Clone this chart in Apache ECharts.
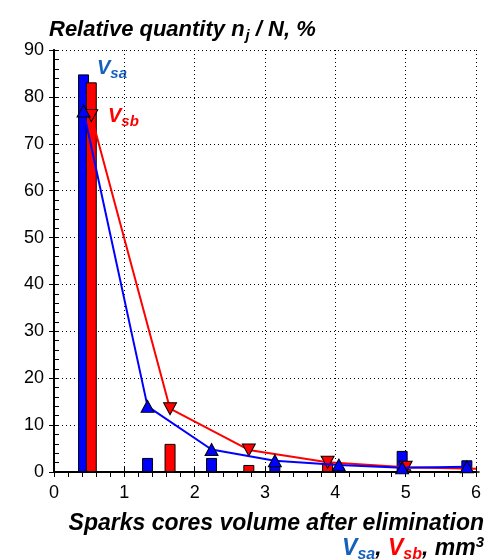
<!DOCTYPE html>
<html>
<head>
<meta charset="utf-8">
<script src="https://cdn.jsdelivr.net/npm/echarts@6/dist/echarts.min.js"></script>
<style>
  html, body { margin: 0; padding: 0; background: #fff; }
  #chart { width: 494px; height: 559px; }
</style>
</head>
<body>
<div id="chart"></div>
<script>
// данные
var xTicks = [0, 1, 2, 3, 4, 5, 6];
var yTicks = [0, 10, 20, 30, 40, 50, 60, 70, 80, 90];

// Vsa – синие столбики и линия
var saX = [0.42, 1.33, 2.24, 3.14, 4.05, 4.95, 5.87];
var saBar = [84.8, 3.0, 3.0, 1.5, 1.0, 4.5, 2.5];
var saLine = [77, 14, 4.8, 2.4, 1.5, 0.9, 1.1];

// Vsb – красные столбики и линия
var sbX = [0.53, 1.65, 2.77, 3.89, 5.0, 6.0];
var sbBar = [83.1, 6.0, 1.5, 2.0, 0.6, 0];
var sbLine = [76, 13.5, 4.7, 2.1, 1.0, 0.7];

var BLUE = '#0000ff', RED = '#ff0000', LBLUE = '#1560bd';
var FONT = 'Liberation Sans, Arial, sans-serif';

function pairs(xs, ys) {
    var res = [];
    for (var i = 0; i < xs.length; i++) res.push([xs[i], ys[i]]);
    return res;
}

var myChart = echarts.init(document.getElementById('chart'));

var axisLine = { show: true, lineStyle: { color: '#000', width: 2 } };
var tick = { show: true, inside: true, length: 5, lineStyle: { color: '#000', width: 1 } };
var minorIn = { show: true, inside: true, splitNumber: 5, length: 5, lineStyle: { color: '#000', width: 1 } };
var minorNeg = { show: true, splitNumber: 5, length: -5, lineStyle: { color: '#000', width: 1 } };
var split = { show: true, lineStyle: { color: '#000', width: 1, type: [1, 3] } };

var sbLineData = pairs(sbX, sbLine);
sbLineData[sbLineData.length - 1] = { value: sbLineData[sbLineData.length - 1], symbol: 'none' };

var bold = { fontWeight: 'bold', fontStyle: 'italic', fontFamily: FONT };
function st(size, color, pad) {
    var o = { fontSize: size, fill: color };
    for (var k in bold) o[k] = bold[k];
    if (pad) o.padding = pad;
    return o;
}

var option = {
    backgroundColor: '#fff',
    animation: false,
    grid: { left: 54, right: 18, top: 50, bottom: 87 },
    xAxis: [
        {
            type: 'value', min: 0, max: 6, interval: 1,
            axisLine: axisLine, axisTick: tick, minorTick: minorNeg, splitLine: split,
            axisLabel: { color: '#000', fontSize: 18, fontFamily: FONT, margin: 12 }
        },
        {
            type: 'value', min: 0, max: 6, interval: 1, position: 'top',
            axisLine: axisLine, axisTick: tick, minorTick: minorIn,
            splitLine: { show: false }, axisLabel: { show: false }
        }
    ],
    yAxis: [
        {
            type: 'value', min: 0, max: 90, interval: 10,
            axisLine: axisLine, axisTick: tick, minorTick: minorIn, splitLine: split,
            axisLabel: { color: '#000', fontSize: 18, fontFamily: FONT, margin: 10 }
        },
        {
            type: 'value', min: 0, max: 90, interval: 10, position: 'right',
            axisLine: axisLine, axisTick: tick, minorTick: minorNeg,
            splitLine: { show: false }, axisLabel: { show: false }
        }
    ],
    series: [
        {
            name: 'Vsa bar', type: 'bar', barWidth: 11, barGap: '-100%', z: 2,
            itemStyle: { color: BLUE, borderColor: '#000', borderWidth: 1 },
            data: pairs(saX, saBar)
        },
        {
            name: 'Vsb bar', type: 'bar', barWidth: 11, barGap: '-100%', z: 2,
            itemStyle: { color: RED, borderColor: '#000', borderWidth: 1 },
            data: pairs(sbX, sbBar)
        },
        {
            name: 'Vsb', type: 'line', z: 3,
            symbol: 'triangle', symbolSize: [13, 12], symbolRotate: 180,
            lineStyle: { color: RED, width: 2 },
            itemStyle: { color: RED, borderColor: '#000', borderWidth: 1 },
            data: sbLineData
        },
        {
            name: 'Vsa', type: 'line', z: 4,
            symbol: 'triangle', symbolSize: [13, 12],
            lineStyle: { color: BLUE, width: 2 },
            itemStyle: { color: BLUE, borderColor: '#000', borderWidth: 1 },
            data: pairs(saX, saLine)
        }
    ],
    graphic: [
        {
            type: 'text', left: 49, top: 19,
            style: {
                text: '{a|Relative quantity n}{s|j}{a| / N, %}',
                rich: { a: st(22, '#000'), s: st(15, '#000', [12, 0, 0, 1]) }
            }
        },
        {
            type: 'text', left: 97, top: 58,
            style: {
                text: '{a|V}{s|sa}',
                rich: { a: st(20, LBLUE), s: st(15, LBLUE, [12, 0, 0, 0]) }
            }
        },
        {
            type: 'text', left: 108, top: 106,
            style: {
                text: '{a|V}{s|sb}',
                rich: { a: st(20, RED), s: st(15, RED, [12, 0, 0, 0]) }
            }
        },
        {
            type: 'text', right: 10, top: 512,
            style: {
                text: 'Sparks cores volume after elimination',
                fontSize: 23, fontWeight: 'bold', fontStyle: 'italic', fontFamily: FONT, fill: '#000'
            }
        },
        {
            type: 'text', right: 10, top: 535,
            style: {
                text: '{b|V}{bs|sa}{k|, }{r|V}{rs|sb}{k|, mm}{sup|3}',
                rich: {
                    b: st(23, LBLUE), bs: st(16, LBLUE, [12, 0, 0, 0]),
                    r: st(23, RED), rs: st(16, RED, [12, 0, 0, 0]),
                    k: st(23, '#000'), sup: st(15, '#000', [0, 0, 12, 0])
                }
            }
        }
    ]
};

myChart.setOption(option);
</script>
</body>
</html>
